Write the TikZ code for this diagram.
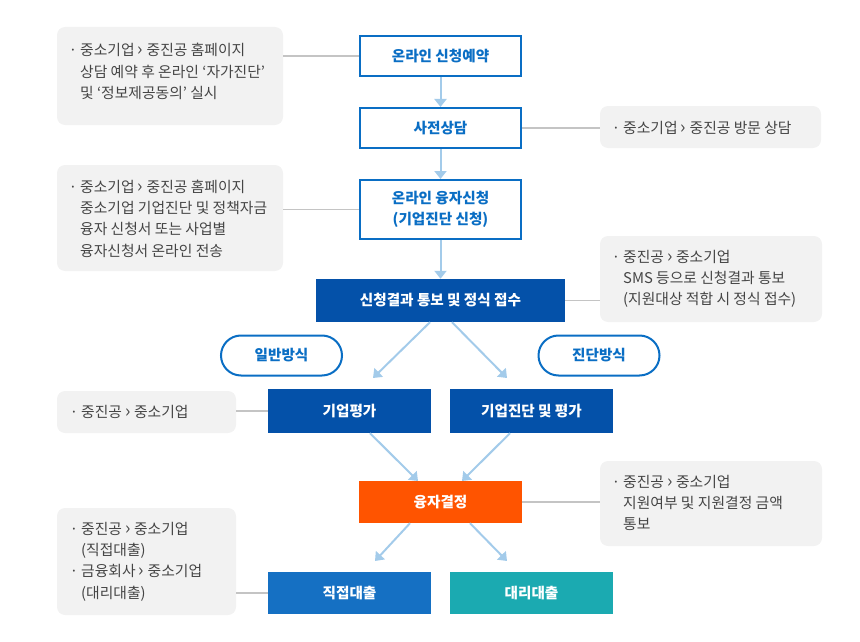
\documentclass[tikz,border=0pt]{standalone}
\usepackage{fontspec}
\setmainfont{Noto Sans CJK KR}
\usetikzlibrary{arrows.meta,calc}
\definecolor{obl}{HTML}{0A6EC4}
\definecolor{dbl}{HTML}{0451A9}
\definecolor{org}{HTML}{FF5400}
\definecolor{mbl}{HTML}{1570C3}
\definecolor{teal}{HTML}{1BAAB1}
\definecolor{arrc}{HTML}{A3CBEA}
\definecolor{notef}{HTML}{F2F2F2}
\definecolor{notet}{HTML}{454545}
\definecolor{connc}{HTML}{C4C4C4}
\tikzset{
  boxbase/.style={rectangle, inner sep=0pt, align=center, font=\bfseries\fontsize{14.6}{21}\selectfont},
  outbox/.style={boxbase, draw=obl, line width=2pt, fill=white, text=obl, minimum width=161pt, minimum height=40pt},
  fillbox/.style={boxbase, fill=#1, text=white, minimum width=163pt, minimum height=43pt},
  pill/.style={boxbase, draw=obl, line width=2pt, text=obl, minimum width=121pt, minimum height=40pt, rounded corners=20pt},
  notebox/.style={rectangle, fill=notef, rounded corners=8pt, inner sep=0pt},
  notetext/.style={anchor=west, align=left, inner sep=0pt, text=notet, font=\fontsize{14.8}{21.3}\selectfont},
  conn/.style={draw=connc, line width=1.2pt},
  arr/.style={draw=arrc, line width=2pt, -{Triangle[length=8pt,width=12pt]}}
}
\newcommand{\bul}{\llap{·\hspace{3pt}}}
\newcommand{\gt}{\scalebox{1.2}{›}}
\begin{document}
\begin{tikzpicture}[x=1pt,y=-1pt]
\useasboundingbox (0,0) rectangle (860,642);
% main flow boxes
\node[outbox] (b1) at (440.5,56) {온라인 신청예약};
\node[outbox] (b2) at (440.5,128) {사전상담};
\node[outbox, minimum height=59pt] (b3) at (440.5,209.5) {온라인 융자신청\\(기업진단 신청)};
\node[fillbox=dbl, minimum width=249pt] (b4) at (440.5,300.5) {신청결과 통보 및 정식 접수};
\node[pill] (p1) at (281.5,355.5) {일반방식};
\node[pill] (p2) at (599,355.5) {진단방식};
\node[fillbox=dbl, minimum height=44pt] (b5) at (349.5,411) {기업평가};
\node[fillbox=dbl, minimum height=44pt] (b6) at (531.5,411) {기업진단 및 평가};
\node[fillbox=org, minimum height=42pt] (b7) at (440.5,502) {융자결정};
\node[fillbox=mbl, minimum height=42pt] (b8) at (349.5,593) {직접대출};
\node[fillbox=teal, minimum height=42pt] (b9) at (531.5,593) {대리대출};
% notes
\node[notebox, minimum width=226pt, minimum height=98pt] (n1) at (170,76) {};
\node[notetext] (n1t) at (80,71.5) {\bul 중소기업 \gt{} 중진공 홈페이지\\상담 예약 후 온라인 ‘자가진단’\\및 ‘정보제공동의’ 실시};
\node[notebox, minimum width=221pt, minimum height=42pt] (n2) at (710.5,127) {};
\node[notetext] (n2t) at (623,127.5) {\bul 중소기업 \gt{} 중진공 방문 상담};
\node[notebox, minimum width=226pt, minimum height=106pt] (n3) at (170,218) {};
\node[notetext] (n3t) at (80,218.5) {\bul 중소기업 \gt{} 중진공 홈페이지\\중소기업 기업진단 및 정책자금\\융자 신청서 또는 사업별\\융자신청서 온라인 전송};
\node[notebox, minimum width=222pt, minimum height=86pt] (n4) at (711,279) {};
\node[notetext] (n4t) at (623,279) {\bul 중진공 \gt{} 중소기업\\SMS 등으로 신청결과 통보\\(지원대상 적합 시 정식 접수)};
\node[notebox, minimum width=179pt, minimum height=42pt] (n5) at (146.5,412) {};
\node[notetext] (n5t) at (81,411.5) {\bul 중진공 \gt{} 중소기업};
\node[notebox, minimum width=222pt, minimum height=85pt] (n6) at (711,503.5) {};
\node[notetext] (n6t) at (623,503) {\bul 중진공 \gt{} 중소기업\\지원여부 및 지원결정 금액\\통보};
\node[notebox, minimum width=179pt, minimum height=107pt] (n7) at (146.5,561.5) {};
\node[notetext] (n7t) at (81,561.5) {\bul 중진공 \gt{} 중소기업\\(직접대출)\\\bul 금융회사 \gt{} 중소기업\\(대리대출)};
% connectors to notes
\draw[conn] (b1.west) -- (b1.west -| n1.east);
\draw[conn] (b2.east) -- (b2.east -| n2.west);
\draw[conn] (b3.west) -- (b3.west -| n3.east);
\draw[conn] (b4.east) -- (b4.east -| n4.west);
\draw[conn] (b5.west) -- (b5.west -| n5.east);
\draw[conn] (b7.east) -- (b7.east -| n6.west);
\draw[conn] (b8.west) -- (b8.west -| n7.east);
% flow arrows
\draw[arr] (b1.south) -- (b2.north);
\draw[arr] (b2.south) -- (b3.north);
\draw[arr] (b3.south) -- (b4.north);
\coordinate (s1) at ($(b4.south)+(-10.5,0)$);
\coordinate (e1) at (373,378);
\coordinate (s2) at ($(b4.south)+(11.5,0)$);
\coordinate (e2) at (507,378);
\draw[arr] (s1) -- (e1);
\draw[arr] (s2) -- (e2);
\coordinate (s3) at ($(b5.south)+(20.5,0)$);
\coordinate (s4) at ($(b6.south)+(-21.5,0)$);
\coordinate (e3) at (418,481);
\coordinate (e4) at (462,481);
\draw[arr] (s3) -- (e3);
\draw[arr] (s4) -- (e4);
\coordinate (s5) at ($(b7.south)+(-30.5,0)$);
\coordinate (s6) at ($(b7.south)+(29.5,0)$);
\coordinate (e5) at (375,561);
\coordinate (e6) at (507,561);
\draw[arr] (s5) -- (e5);
\draw[arr] (s6) -- (e6);
\end{tikzpicture}
\end{document}
